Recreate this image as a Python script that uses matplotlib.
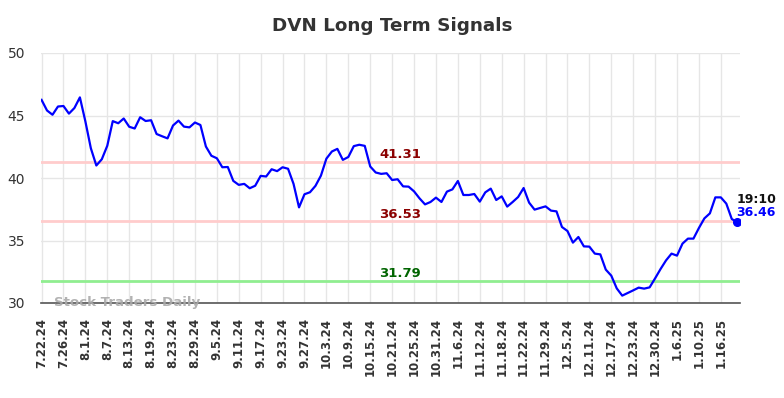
import matplotlib
matplotlib.use("Agg")
import matplotlib.pyplot as plt
import numpy as np

tick_labels = ["7.22.24", "7.26.24", "8.1.24", "8.7.24", "8.13.24", "8.19.24", "8.23.24",
               "8.29.24", "9.5.24", "9.11.24", "9.17.24", "9.23.24", "9.27.24", "10.3.24",
               "10.9.24", "10.15.24", "10.21.24", "10.25.24", "10.31.24", "11.6.24",
               "11.12.24", "11.18.24", "11.22.24", "11.29.24", "12.5.24", "12.11.24",
               "12.17.24", "12.23.24", "12.30.24", "1.6.25", "1.10.25", "1.16.25"]

prices = [46.25, 45.40, 45.06, 45.72, 45.76, 45.15, 45.60, 46.45, 44.53, 42.38,
          41.00, 41.50, 42.58, 44.55, 44.38, 44.76, 44.10, 43.96, 44.86, 44.56,
          44.62, 43.52, 43.34, 43.17, 44.20, 44.59, 44.11, 44.05, 44.44, 44.24,
          42.52, 41.78, 41.58, 40.86, 40.88, 39.77, 39.45, 39.53, 39.18, 39.38,
          40.17, 40.12, 40.70, 40.55, 40.86, 40.74, 39.53, 37.65, 38.70, 38.86,
          39.37, 40.19, 41.55, 42.12, 42.33, 41.45, 41.68, 42.55, 42.66, 42.57,
          40.92, 40.44, 40.33, 40.38, 39.84, 39.90, 39.33, 39.31, 38.93, 38.37,
          37.89, 38.08, 38.43, 38.08, 38.91, 39.09, 39.76, 38.64, 38.64, 38.72,
          38.11, 38.85, 39.15, 38.24, 38.53, 37.71, 38.08, 38.48, 39.20, 38.03,
          37.47, 37.60, 37.73, 37.39, 37.33, 36.08, 35.76, 34.83, 35.28, 34.53,
          34.51, 33.95, 33.89, 32.67, 32.19, 31.17, 30.59, 30.80, 31.01, 31.23,
          31.15, 31.25, 31.97, 32.72, 33.41, 33.95, 33.79, 34.75, 35.15, 35.15,
          36.00, 36.77, 37.17, 38.45, 38.45, 37.95, 36.72, 36.46]

levels = [41.31, 36.53, 31.79]
level_line_colors = ["#ffcccc", "#ffcccc", "#90ee90"]
level_text_colors = ["#8b0000", "#8b0000", "#006400"]
last_time = "19:10"
title = "DVN Long Term Signals"
watermark = "Stock Traders Daily"
tick_step = 4

fig = plt.figure(figsize=(7.84, 3.98), dpi=100)
ax = fig.add_axes([41 / 784, 95 / 398, 699 / 784, 250 / 398])

x = np.arange(len(prices))
ax.set_xlim(-0.1, 127.5)
ax.set_ylim(30, 50)

ax.set_xticks(np.arange(len(tick_labels)) * tick_step)
ax.set_xticklabels(tick_labels, rotation=90, fontsize=8.5, fontweight="bold", color="#333333")
ax.set_yticks([30, 35, 40, 45, 50])
ax.set_yticklabels(["30", "35", "40", "45", "50"], fontsize=10, color="#333333")
ax.tick_params(axis="both", length=0)
ax.tick_params(axis="x", pad=10.5)
ax.tick_params(axis="y", pad=11.5)

ax.grid(True, color="#e6e6e6", linewidth=1)
ax.set_axisbelow(True)
for s in ["top", "right", "left"]:
    ax.spines[s].set_visible(False)
ax.spines["bottom"].set_color("#555555")
ax.spines["bottom"].set_linewidth(1.2)

for lv, lc, tc in zip(levels, level_line_colors, level_text_colors):
    ax.axhline(lv, color=lc, linewidth=2, zorder=2)
    ax.text(65.5, lv + 0.56, f"{lv:.2f}", color=tc, fontsize=9.5, fontweight="bold",
            ha="center", va="center", zorder=4)

ax.plot(x, prices, color="#0000ff", linewidth=1.6, zorder=3)
ax.plot(x[-1], prices[-1], "o", color="#0000ff", markersize=5.5, zorder=4)

ax.annotate(last_time, xy=(x[-1], prices[-1]), xytext=(-0.5, 16.5), textcoords="offset points",
            fontsize=9, fontweight="bold", color="#111111", ha="left", va="center",
            annotation_clip=False)
ax.annotate(f"{prices[-1]:.2f}", xy=(x[-1], prices[-1]), xytext=(-0.5, 7.2), textcoords="offset points",
            fontsize=9, fontweight="bold", color="#0000ff", ha="left", va="center",
            annotation_clip=False)

ax.text(2.3, 30.05, watermark, fontsize=9.6, fontweight="bold", color="#aaaaaa",
        alpha=0.9, ha="left", va="center", zorder=5)

fig.suptitle(title, x=0.5, y=1 - 26 / 398, va="center", fontsize=13.2, fontweight="bold",
             color="#333333")

fig.savefig("out.png", dpi=100)
